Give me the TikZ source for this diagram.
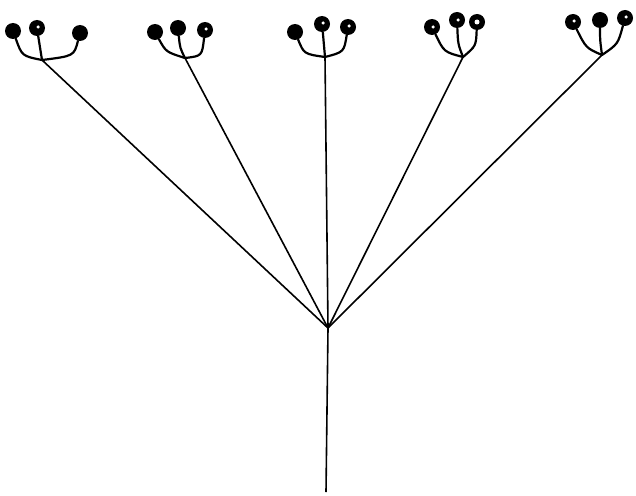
\documentclass[tikz,border=0pt]{standalone}
\begin{document}
\begin{tikzpicture}[x=1pt,y=-1pt,
  ray/.style={line width=1.6pt,black},
  stalk/.style={line width=2.2pt,black,line cap=round,line join=round},
  flower/.style={circle,fill=black,minimum size=16pt,inner sep=0pt},
  eye/.style={circle,fill=white,minimum size=3.5pt,inner sep=0pt}]
\useasboundingbox[fill=white] (0,0) rectangle (636,495);
% hub and stem
\coordinate (hub) at (328,328);
\coordinate (base) at (326,492);
\draw[ray] (hub) -- (base);
% junctions
\coordinate (j1) at (42,60);
\coordinate (j2) at (185,58);
\coordinate (j3) at (325,57);
\coordinate (j4) at (463,57);
\coordinate (j5) at (602,55);
\foreach \j in {j1,j2,j3,j4,j5} \draw[ray] (\j) -- (hub);
% umbel 1
\node[flower] (f11) at (13,31) {};
\node[flower] (f12) at (37,28) {};
\node[flower] (f13) at (80,33) {};
\node[eye] (e12) at (38,27) {};
\draw[stalk] (f11) .. controls (22,56) .. (j1);
\draw[stalk] (f12) .. controls (40,48) .. (j1);
\draw[stalk] (f13) .. controls (74,56) .. (j1);
% umbel 2
\node[flower] (f21) at (155,32) {};
\node[flower] (f22) at (178,28) {};
\node[flower] (f23) at (205,30) {};
\node[eye] (e23) at (206,29) {};
\draw[stalk] (f21) .. controls (166,52) .. (j2);
\draw[stalk] (f22) .. controls (180,48) .. (j2);
\draw[stalk] (f23) .. controls (202,56) .. (j2);
% umbel 3
\node[flower] (f31) at (295,32) {};
\node[flower] (f32) at (322,24) {};
\node[flower] (f33) at (348,27) {};
\node[eye] (e32) at (323,23) {};
\node[eye] (e33) at (349,26) {};
\draw[stalk] (f31) .. controls (304,54) .. (j3);
\draw[stalk] (f32) .. controls (324,44) .. (j3);
\draw[stalk] (f33) .. controls (344,52) .. (j3);
% umbel 4
\node[flower] (f41) at (432,27) {};
\node[flower] (f42) at (457,20) {};
\node[flower] (f43) at (477,22) {};
\node[eye] (e41) at (433,27) {};
\node[eye] (e42) at (458,20) {};
\node[eye,minimum size=5pt] (e43) at (477,22) {};
\draw[stalk] (f41) .. controls (444,52) .. (j4);
\draw[stalk] (f42) .. controls (458,44) .. (j4);
\draw[stalk] (f43) .. controls (476,46) .. (j4);
% umbel 5
\node[flower] (f51) at (573,22) {};
\node[flower] (f52) at (600,20) {};
\node[flower] (f53) at (625,18) {};
\node[eye] (e51) at (574,21) {};
\node[eye] (e53) at (626,17) {};
\draw[stalk] (f51) .. controls (586,48) .. (j5);
\draw[stalk] (f52) .. controls (600,40) .. (j5);
\draw[stalk] (f53) .. controls (618,44) .. (j5);
\end{tikzpicture}
\end{document}
